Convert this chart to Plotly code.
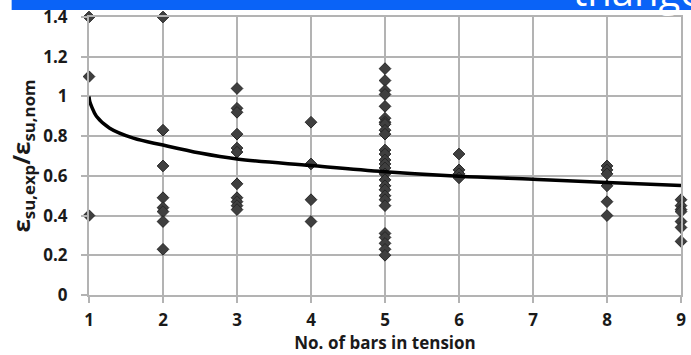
import plotly.graph_objects as go

# Experimental points: number of bars in tension -> ratio values
bars_1 = [1.40, 1.10, 0.40]
bars_2 = [1.40, 0.83, 0.65, 0.49, 0.44, 0.42, 0.37, 0.23]
bars_3 = [1.04, 0.94, 0.92, 0.81, 0.74, 0.72, 0.56, 0.49, 0.47, 0.45, 0.43]
bars_4 = [0.87, 0.66, 0.48, 0.37]
bars_5 = [1.14, 1.08, 1.03, 1.01, 0.95, 0.89, 0.87, 0.86, 0.83, 0.81,
          0.73, 0.71, 0.68, 0.66, 0.64, 0.61, 0.58, 0.55, 0.53, 0.50,
          0.48, 0.45, 0.31, 0.29, 0.26, 0.23, 0.20]
bars_6 = [0.71, 0.63, 0.61, 0.59]
bars_8 = [0.65, 0.63, 0.61, 0.55, 0.47, 0.40]
bars_9 = [0.48, 0.45, 0.43, 0.42, 0.37, 0.34, 0.27]

groups = {1: bars_1, 2: bars_2, 3: bars_3, 4: bars_4, 5: bars_5,
          6: bars_6, 8: bars_8, 9: bars_9}

# Trend curve
curve_x = [1.0, 1.01, 1.04, 1.1, 1.28, 1.6, 2.0, 2.5, 3.0, 4.0, 5.0, 6.0, 7.0, 8.0, 9.0]
curve_y = [1.0, 0.975, 0.945, 0.9, 0.84, 0.79, 0.755, 0.715, 0.685, 0.652, 0.621, 0.598, 0.583, 0.566, 0.552]

x_ticks = [1, 2, 3, 4, 5, 6, 7, 8, 9]
x_ticktext = ["1", "2", "3", "4", "5", "6", "7", "8", "9"]
y_ticks = [0, 0.2, 0.4, 0.6, 0.8, 1.0, 1.2, 1.4]
y_ticktext = ["0", "0.2", "0.4", "0.6", "0.8", "1", "1.2", "1.4"]

px, py = [], []
for k, vals in groups.items():
    for v in vals:
        px.append(k)
        py.append(v)

FONT = "Open Sans"
GRID = "#b3b3b3"

fig = go.Figure()
fig.add_trace(go.Scatter(
    x=px, y=py, mode="markers", cliponaxis=False,
    marker=dict(symbol="diamond", size=9, color="#3f3f3f",
                line=dict(color="#262626", width=1)),
    showlegend=False))
fig.add_trace(go.Scatter(
    x=curve_x, y=curve_y, mode="lines", line=dict(color="black", width=3.5, shape="spline"),
    showlegend=False))

fig.update_layout(
    width=691, height=355,
    margin=dict(l=89, r=5, t=16, b=59),
    paper_bgcolor="white", plot_bgcolor="white",
    font=dict(family=FONT, size=17, color="#1a1a1a"),
    xaxis=dict(range=[1, 9], tickvals=x_ticks, ticktext=x_ticktext,
               showgrid=True, gridcolor=GRID, gridwidth=2,
               showline=True, linecolor=GRID, linewidth=2, mirror=True,
               ticks="outside", ticklen=6, tickcolor=GRID, tickwidth=2,
               ticklabelstandoff=3, zeroline=False,
               tickfont=dict(family=FONT, size=17, weight="bold"),
               title=dict(text="No. of bars in tension", standoff=7,
                          font=dict(family=FONT, size=17, weight="bold"))),
    yaxis=dict(range=[0, 1.4], tickvals=y_ticks, ticktext=y_ticktext,
               showgrid=True, gridcolor=GRID, gridwidth=2,
               showline=True, linecolor=GRID, linewidth=2, mirror=True,
               ticks="outside", ticklen=6, tickcolor=GRID, tickwidth=2,
               ticklabelstandoff=10, zeroline=False,
               tickfont=dict(family=FONT, size=17, weight="bold"),
               title=dict(text="ε<sub>su,exp</sub>/ε<sub>su,nom</sub>", standoff=6,
                          font=dict(family=FONT, size=24, weight="bold"))),
)

# Blue banner strip at top
fig.add_shape(type="rect", xref="paper", yref="paper",
              x0=-78/597, x1=1.02, y0=1 + 7/280, y1=1 + 20/280,
              fillcolor="#0a63f7", line=dict(width=0), layer="above")
fig.add_annotation(text="thange", xref="paper", yref="paper",
                   x=1.04, y=1 + 9/280, xanchor="right", yanchor="bottom",
                   showarrow=False, yshift=-12,
                   font=dict(family="Open Sans", size=40, color="white"))

fig.write_html("out.html")
